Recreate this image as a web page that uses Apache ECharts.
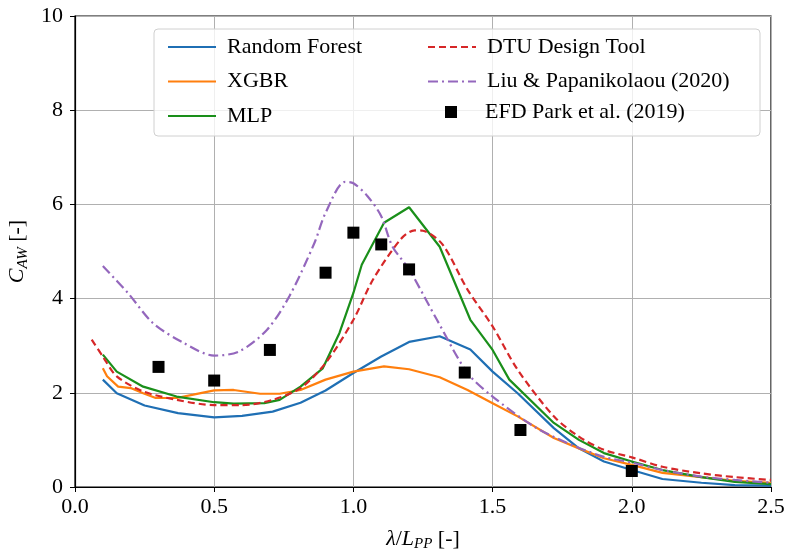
<!DOCTYPE html>
<html>
<head>
<meta charset="utf-8">
<script src="https://cdn.jsdelivr.net/npm/echarts@6/dist/echarts.min.js"></script>
<style>
  html, body { margin: 0; padding: 0; background: #fff; }
  #chart { width: 788px; height: 551px; }
</style>
</head>
<body>
<div id="chart"></div>
<script>
// values
var rfLambda = [0.1, 0.15, 0.25, 0.37, 0.5, 0.6, 0.71, 0.81, 0.9, 1.0, 1.1, 1.2, 1.31, 1.42, 1.5, 1.59, 1.72, 1.81, 1.9, 2.0, 2.11, 2.25, 2.37, 2.5];
var rfCaw = [2.28, 1.99, 1.73, 1.57, 1.48, 1.51, 1.60, 1.79, 2.05, 2.42, 2.77, 3.08, 3.2, 2.92, 2.45, 1.99, 1.25, 0.82, 0.54, 0.36, 0.17, 0.09, 0.04, 0.03];

var xgbLambda = [0.1, 0.115, 0.155, 0.2, 0.245, 0.29, 0.365, 0.425, 0.5, 0.57, 0.665, 0.735, 0.81, 0.9, 1.0, 1.11, 1.2, 1.31, 1.41, 1.5, 1.59, 1.72, 1.81, 1.9, 2.0, 2.11, 2.25, 2.37, 2.5];
var xgbCaw = [2.52, 2.35, 2.13, 2.10, 1.99, 1.89, 1.89, 1.96, 2.05, 2.06, 1.98, 1.98, 2.06, 2.28, 2.45, 2.56, 2.5, 2.33, 2.06, 1.78, 1.5, 1.04, 0.82, 0.61, 0.47, 0.30, 0.21, 0.13, 0.09];

var mlpLambda = [0.1, 0.15, 0.245, 0.365, 0.5, 0.57, 0.68, 0.735, 0.81, 0.89, 0.95, 1.0, 1.03, 1.11, 1.2, 1.31, 1.42, 1.5, 1.56, 1.72, 1.81, 1.9, 2.0, 2.11, 2.25, 2.37, 2.5];
var mlpCaw = [2.81, 2.45, 2.13, 1.92, 1.80, 1.77, 1.78, 1.85, 2.13, 2.52, 3.27, 4.12, 4.72, 5.61, 5.94, 5.1, 3.55, 2.91, 2.28, 1.36, 1.0, 0.72, 0.54, 0.36, 0.21, 0.11, 0.06];

var dtuLambda = [0.06, 0.1, 0.15, 0.245, 0.365, 0.5, 0.6, 0.71, 0.81, 0.9, 1.0, 1.07, 1.17, 1.22, 1.25, 1.32, 1.41, 1.5, 1.59, 1.72, 1.81, 1.9, 2.0, 2.11, 2.25, 2.37, 2.5];
var dtuCaw = [3.13, 2.77, 2.35, 2.03, 1.85, 1.74, 1.74, 1.85, 2.10, 2.63, 3.55, 4.40, 5.26, 5.45, 5.44, 5.15, 4.19, 3.41, 2.49, 1.50, 1.07, 0.79, 0.63, 0.43, 0.29, 0.21, 0.15];

var liuLambda = [0.1, 0.19, 0.28, 0.39, 0.5, 0.59, 0.69, 0.77, 0.86, 0.9, 0.97, 1.0, 1.05, 1.1, 1.14, 1.2, 1.3, 1.41, 1.5, 1.65, 1.77, 1.9, 2.0, 2.11, 2.25, 2.37, 2.5];
var liuCaw = [4.69, 4.12, 3.48, 3.06, 2.79, 2.88, 3.34, 4.05, 5.18, 5.82, 6.48, 6.45, 6.18, 5.75, 5.11, 4.62, 3.55, 2.42, 1.92, 1.28, 0.93, 0.64, 0.52, 0.36, 0.22, 0.15, 0.09];

var efdLambda = [0.3, 0.5, 0.7, 0.9, 1.0, 1.1, 1.2, 1.4, 1.6, 2.0];
var efdCaw = [2.55, 2.26, 2.91, 4.55, 5.40, 5.15, 4.62, 2.43, 1.21, 0.34];

var seriesNames = ['Random Forest', 'XGBR', 'MLP', 'DTU Design Tool', 'Liu & Papanikolaou (2020)', 'EFD Park et al. (2019)'];

var font = 'Liberation Serif';

function pairs(xs, ys) {
    return xs.map(function (x, i) { return [x, ys[i]]; });
}

function lineSeries(name, xs, ys, color, type, smooth) {
    return {
        name: name,
        type: 'line',
        data: pairs(xs, ys),
        symbol: 'none',
        smooth: smooth,
        lineStyle: { color: color, width: 2.2, type: type },
        itemStyle: { color: color },
        z: 3
    };
}

var chart = echarts.init(document.getElementById('chart'));

var legendText = { fontFamily: font, fontSize: 22, color: '#000', padding: [0, 0, 0, 6], lineHeight: 20 };

var rich = {
    i: { fontFamily: font, fontStyle: 'italic', fontSize: 22, color: '#000' },
    s: { fontFamily: font, fontStyle: 'italic', fontSize: 15, color: '#000', padding: [10, 0, 0, 0] },
    n: { fontFamily: font, fontSize: 22, color: '#000' }
};

var option = {
    animation: false,
    backgroundColor: '#fff',
    grid: {
        left: 75, right: 17, top: 16, bottom: 64,
        outerBoundsMode: 'none',
        containLabel: false,
        show: true, borderColor: '#000', borderWidth: 1.2
    },
    xAxis: {
        type: 'value',
        min: 0, max: 2.5, interval: 0.5,
        name: '{i|λ}{n|/}{i|L}{s|PP}{n| [-]}',
        nameLocation: 'middle',
        nameGap: 40,
        nameTextStyle: { rich: rich },
        axisLine: { show: true, lineStyle: { color: '#000', width: 1.2 } },
        axisTick: { show: true, length: 5, lineStyle: { color: '#000' } },
        axisLabel: {
            fontFamily: font, fontSize: 22, color: '#000', margin: 9,
            formatter: function (v) { return v.toFixed(1); }
        },
        splitLine: { show: true, lineStyle: { color: '#b0b0b0', width: 1 } }
    },
    yAxis: {
        type: 'value',
        min: 0, max: 10, interval: 2,
        name: '{i|C}{s|AW}{n| [-]}',
        nameLocation: 'middle',
        nameGap: 44,
        nameTextStyle: { rich: rich },
        axisLine: { show: true, lineStyle: { color: '#000', width: 1.2 } },
        axisTick: { show: true, length: 5, lineStyle: { color: '#000' } },
        axisLabel: { fontFamily: font, fontSize: 22, color: '#000', margin: 12 },
        splitLine: { show: true, lineStyle: { color: '#b0b0b0', width: 1 } }
    },
    graphic: [{
        type: 'rect',
        z: 5,
        shape: { x: 154, y: 29, width: 606, height: 107, r: 4 },
        style: { fill: 'rgba(255,255,255,0.8)', stroke: '#d0d0d0', lineWidth: 1 }
    }],
    legend: [
        {
            orient: 'vertical', left: 162, top: 31, z: 10,
            itemWidth: 48, itemHeight: 20, itemGap: 12.5,
            itemStyle: { opacity: 0 },
            data: seriesNames.slice(0, 3),
            textStyle: legendText
        },
        {
            orient: 'vertical', left: 422, top: 31, z: 10,
            itemWidth: 48, itemHeight: 20, itemGap: 12.5,
            itemStyle: { opacity: 0 },
            data: seriesNames.slice(3, 5),
            textStyle: legendText
        },
        {
            orient: 'vertical', left: 440, top: 96, z: 10,
            itemWidth: 12, itemHeight: 12,
            data: [{ name: seriesNames[5], icon: 'rect' }],
            textStyle: Object.assign({}, legendText, { padding: [0, 0, 0, 23] })
        }
    ],
    series: [
        lineSeries(seriesNames[0], rfLambda, rfCaw, '#1f6fb4', 'solid', false),
        lineSeries(seriesNames[1], xgbLambda, xgbCaw, '#ff7f0e', 'solid', false),
        lineSeries(seriesNames[2], mlpLambda, mlpCaw, '#1a8f1a', 'solid', false),
        lineSeries(seriesNames[3], dtuLambda, dtuCaw, '#d62728', [7, 4], 0.3),
        lineSeries(seriesNames[4], liuLambda, liuCaw, '#9467bd', [10, 4, 2, 4], 0.3),
        {
            name: seriesNames[5],
            type: 'scatter',
            data: pairs(efdLambda, efdCaw),
            symbol: 'rect',
            symbolSize: 12,
            itemStyle: { color: '#000', opacity: 1 },
            z: 4
        }
    ]
};

chart.setOption(option);
</script>
</body>
</html>
